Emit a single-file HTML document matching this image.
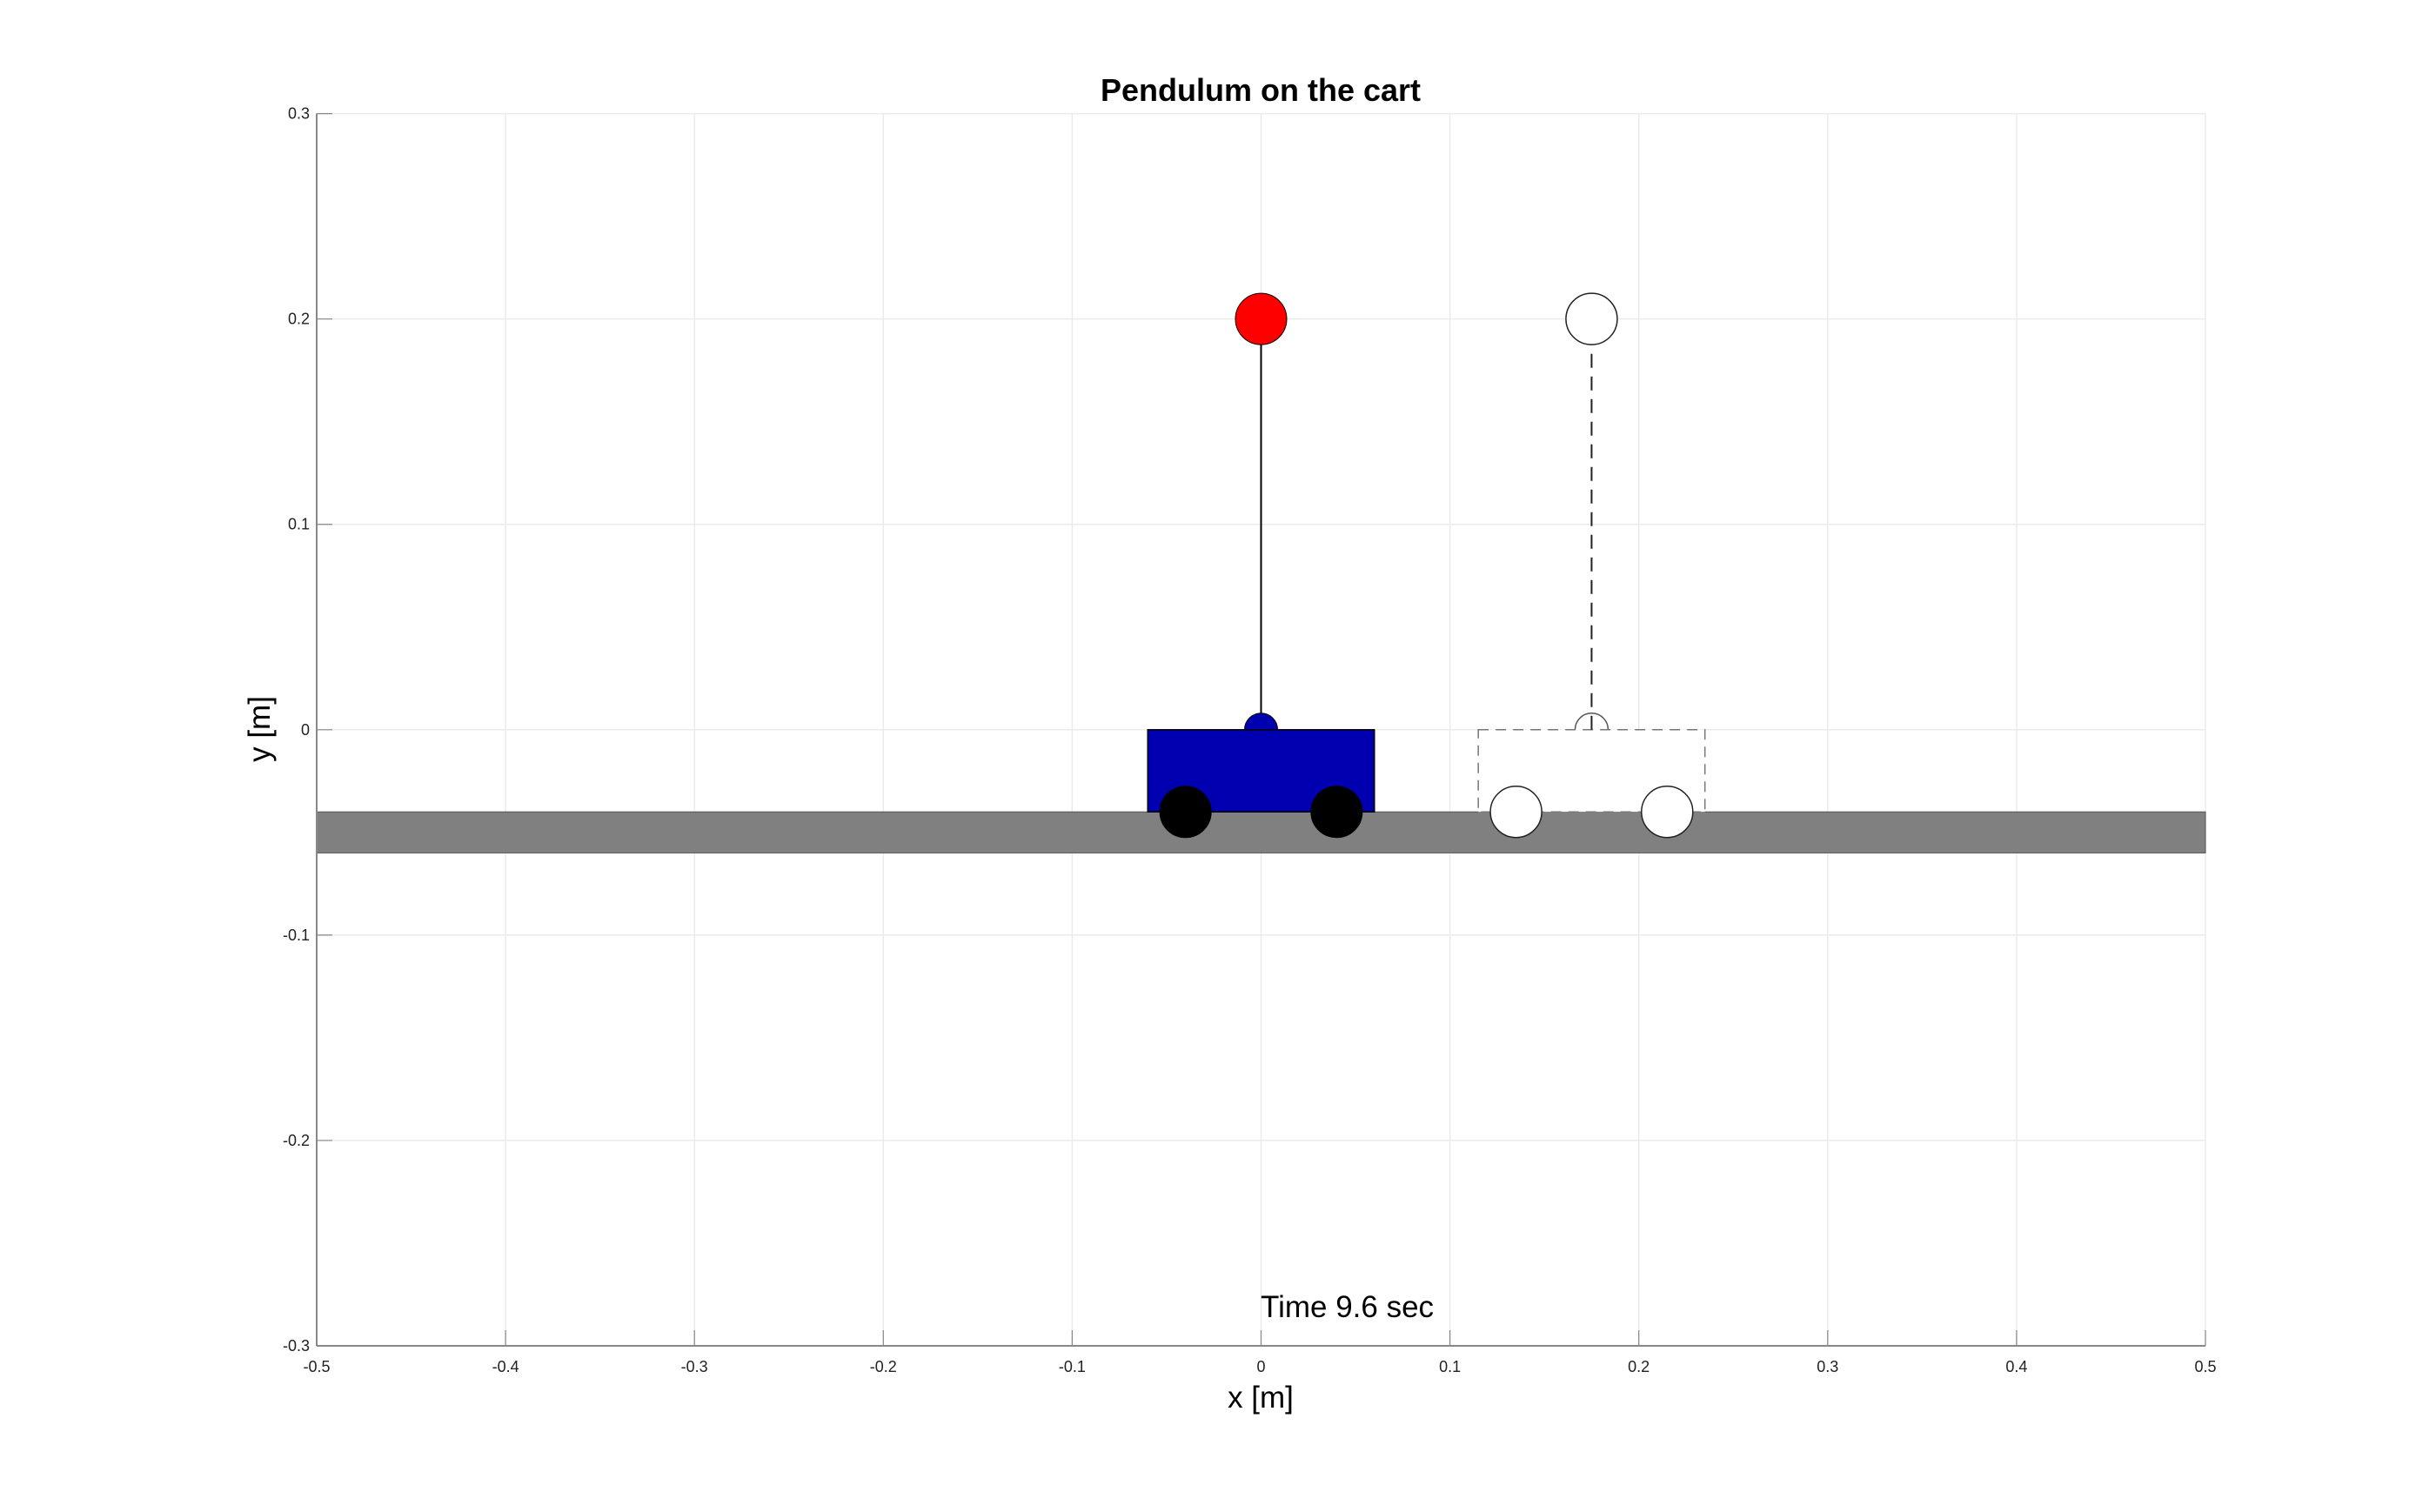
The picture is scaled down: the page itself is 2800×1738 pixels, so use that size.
<!DOCTYPE html>
<html><head><meta charset="utf-8"><style>
html,body{margin:0;padding:0;background:#fff;}
svg{display:block;font-family:"Liberation Sans",sans-serif;}
</style></head><body>
<svg id="chart" width="2800" height="1738" viewBox="0 0 2800 1738" xmlns="http://www.w3.org/2000/svg">
<rect width="2800" height="1738" fill="#fff"/>
<g id="grid"></g>
<g id="scene"></g>
<g id="axes"></g>
<text x="1449" y="116" text-anchor="middle" font-size="36" font-weight="bold">Pendulum on the cart</text>
<text x="1605" y="1618" text-anchor="middle" font-size="35" transform="translate(-156,0)">x [m]</text>
<text x="0" y="0" text-anchor="middle" font-size="35" transform="translate(310,838) rotate(-90)">y [m]</text>
<text id="timeText" x="1449" y="1514" font-size="35">Time 9.6 sec</text>
</svg>
<script>
const xTicks = [-0.5,-0.4,-0.3,-0.2,-0.1,0,0.1,0.2,0.3,0.4,0.5];
const yTicks = [-0.3,-0.2,-0.1,0,0.1,0.2,0.3];
const cartX = [0];
const ghostX = [0.175];
const pendulumLength = [0.2];
const cartHalfWidth = [0.06];
const cartHeight = [0.04];
const wheelOffset = [0.04];
const groundY = [-0.04,-0.06];

const X0=364, X1=2535, Y0=1547, Y1=130.6;
const sx = v => X0 + (v+0.5)/1.0*(X1-X0);
const sy = v => Y0 - (v+0.3)/0.6*(Y0-Y1);
const NS="http://www.w3.org/2000/svg";
function mk(tag, attrs, parent){const e=document.createElementNS(NS,tag);for(const k in attrs)e.setAttribute(k,attrs[k]);parent.appendChild(e);return e;}
const grid=document.getElementById('grid'), scene=document.getElementById('scene'), axes=document.getElementById('axes');

xTicks.forEach(t=>{
  const g=mk('line',{x1:sx(t),x2:sx(t),y1:Y1,y2:Y0,stroke:'#ebebeb','stroke-width':1.5},grid);
  
  
  const tk=mk('line',{x1:sx(t),x2:sx(t),y1:Y0,y2:Y0-18,stroke:'#888','stroke-width':1.2},axes);
  
  
  const lb=mk('text',{x:sx(t),y:Y0+30,'text-anchor':'middle','font-size':18,fill:'#222'},axes);
  lb.textContent=String(t);
  
  
});
yTicks.forEach(t=>{
  const g=mk('line',{x1:X0,x2:X1,y1:sy(t),y2:sy(t),stroke:'#ebebeb','stroke-width':1.5},grid);
  
  
  const tk=mk('line',{x1:X0,x2:X0+18,y1:sy(t),y2:sy(t),stroke:'#888','stroke-width':1.2},axes);
  
  
  const lb=mk('text',{x:X0-8,y:sy(t)+6,'text-anchor':'end','font-size':18,fill:'#222'},axes);
  lb.textContent=String(t);
  
  
});
const ax1=mk('line',{x1:X0,x2:X0,y1:Y1,y2:Y0,stroke:'#888','stroke-width':2},axes);


const ax2=mk('line',{x1:X0,x2:X1,y1:Y0,y2:Y0,stroke:'#888','stroke-width':2},axes);



const gr=mk('rect',{x:sx(-0.5),y:sy(groundY[0]),width:sx(0.5)-sx(-0.5),height:sy(groundY[1])-sy(groundY[0]),fill:'#808080',stroke:'#555','stroke-width':1},scene);



const R=29.5, r=19;
const gx=ghostX[0];
const gp=mk('circle',{cx:sx(gx),cy:sy(0),r:r,fill:'#fff',stroke:'#555','stroke-width':1.5},scene);


const gc=mk('rect',{x:sx(gx-cartHalfWidth[0]),y:sy(0),width:sx(gx+cartHalfWidth[0])-sx(gx-cartHalfWidth[0]),height:sy(-cartHeight[0])-sy(0),fill:'#fff',stroke:'#777','stroke-width':1.5,'stroke-dasharray':'12 8'},scene);


const gl=mk('line',{x1:sx(gx),x2:sx(gx),y1:sy(0),y2:sy(pendulumLength[0]),stroke:'#222','stroke-width':2,'stroke-dasharray':'16 10'},scene);


[-1,1].forEach(s=>{
  const w=mk('circle',{cx:sx(gx+s*wheelOffset[0]),cy:sy(-cartHeight[0]),r:R,fill:'#fff',stroke:'#222','stroke-width':1.5},scene);
  
  
});
const gb=mk('circle',{cx:sx(gx),cy:sy(pendulumLength[0]),r:R,fill:'#fff',stroke:'#222','stroke-width':1.5},scene);



const cx=cartX[0];
const rod=mk('line',{x1:sx(cx),x2:sx(cx),y1:sy(0),y2:sy(pendulumLength[0]),stroke:'#000','stroke-width':2},scene);


const pv=mk('circle',{cx:sx(cx),cy:sy(0),r:r,fill:'#0000b0',stroke:'#000','stroke-width':1},scene);


const cart=mk('rect',{x:sx(cx-cartHalfWidth[0]),y:sy(0),width:sx(cx+cartHalfWidth[0])-sx(cx-cartHalfWidth[0]),height:sy(-cartHeight[0])-sy(0),fill:'#0000b0',stroke:'#000','stroke-width':1.5},scene);


[-1,1].forEach(s=>{
  const w=mk('circle',{cx:sx(cx+s*wheelOffset[0]),cy:sy(-cartHeight[0]),r:R,fill:'#000',stroke:'#000','stroke-width':1},scene);
  
  
});
const bob=mk('circle',{cx:sx(cx),cy:sy(pendulumLength[0]),r:R,fill:'#ff0000',stroke:'#000','stroke-width':1},scene);


</script>
</body></html>
